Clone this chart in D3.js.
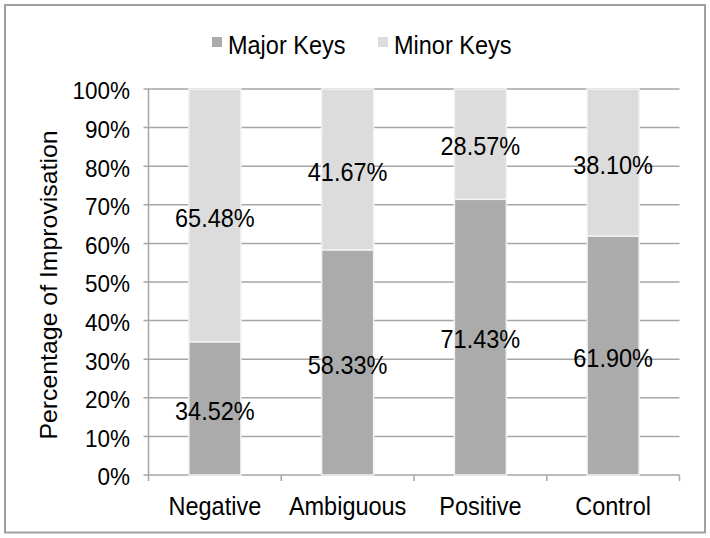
<!DOCTYPE html>
<html>
<head>
<meta charset="utf-8">
<script src="https://cdn.jsdelivr.net/npm/d3@7"></script>
<style>
  html, body { margin: 0; padding: 0; background: #fff; }
  svg text { font-family: "Liberation Sans", Arial, sans-serif; fill: #000; }
</style>
</head>
<body>
<svg id="chart" width="710" height="538"></svg>
<script>
const categories = ["Negative", "Ambiguous", "Positive", "Control"];
const majorKeys = [34.52, 58.33, 71.43, 61.90];
const minorKeys = [65.48, 41.67, 28.57, 38.10];
const seriesNames = ["Major Keys", "Minor Keys"];
const yTicks = [0, 10, 20, 30, 40, 50, 60, 70, 80, 90, 100];
const yTitle = "Percentage of Improvisation";

(function () {
const colors = { "Major Keys": "#ababab", "Minor Keys": "#dcdcdc" };
const svg = d3.select("#chart");
const SY = 1.08; // vertical stretch of text, as in the reference

// outer border
svg.append("rect").attr("x", 5).attr("y", 5).attr("width", 700).attr("height", 527.5)
  .attr("fill", "#fff").attr("stroke", "#a0a0a0").attr("stroke-width", 2);

const pLeft = 148.5, pRight = 679.5, pTop = 89, pBottom = 475;
const x = d3.scaleBand().domain(categories).range([pLeft, pRight]).paddingInner(0).paddingOuter(0);
const y = d3.scaleLinear().domain([0, 100]).range([pBottom, pTop]);

// gridlines
svg.append("g").selectAll("line").data(yTicks).join("line")
  .attr("x1", pLeft - 5).attr("x2", pRight)
  .attr("y1", d => y(d)).attr("y2", d => y(d))
  .attr("stroke", "#a6a6a6").attr("stroke-width", 1.5);

// y axis line
svg.append("line").attr("x1", pLeft).attr("x2", pLeft).attr("y1", pTop).attr("y2", pBottom)
  .attr("stroke", "#a6a6a6").attr("stroke-width", 1.5);

// x ticks
const xTickPos = categories.map(c => x(c)).concat([pRight]);
svg.append("g").selectAll("line").data(xTickPos).join("line")
  .attr("x1", d => d).attr("x2", d => d).attr("y1", pBottom).attr("y2", pBottom + 6)
  .attr("stroke", "#a6a6a6").attr("stroke-width", 1.5);

// y tick labels
svg.append("g").selectAll("text").data(yTicks).join("text")
  .attr("transform", d => `translate(130, ${y(d) + 2}) scale(1, ${SY})`)
  .attr("text-anchor", "end").attr("dominant-baseline", "central")
  .style("font-size", "22.5px")
  .text(d => d + "%");

// x labels
svg.append("g").selectAll("text").data(categories).join("text")
  .attr("transform", d => `translate(${x(d) + x.bandwidth() / 2}, 515) scale(1, ${SY})`)
  .attr("text-anchor", "middle")
  .style("font-size", "23.5px")
  .text(d => d);

// y title
svg.append("text")
  .attr("transform", `translate(57, ${(pTop + pBottom) / 2 + 3}) rotate(-90) scale(${SY}, 1)`)
  .attr("text-anchor", "middle")
  .style("font-size", "23px")
  .text(yTitle);

// stacked data
const rows = categories.map((c, i) => ({ category: c, "Major Keys": majorKeys[i], "Minor Keys": minorKeys[i] }));
const stack = d3.stack().keys(seriesNames)(rows);
const barW = 52;

stack.forEach(layer => {
  svg.append("g").selectAll("rect").data(layer).join("rect")
    .attr("x", d => x(d.data.category) + x.bandwidth() / 2 - barW / 2)
    .attr("width", barW)
    .attr("y", d => y(d[1]))
    .attr("height", d => y(d[0]) - y(d[1]))
    .attr("fill", colors[layer.key])
    .attr("stroke", "#f2f2f2").attr("stroke-width", 1.5);
});

stack.forEach(layer => {
  svg.append("g").selectAll("text").data(layer).join("text")
    .attr("transform", d => `translate(${x(d.data.category) + x.bandwidth() / 2}, ${y((d[0] + d[1]) / 2) + 2.5}) scale(1, ${SY})`)
    .attr("text-anchor", "middle").attr("dominant-baseline", "central")
    .style("font-size", "23.5px")
    .text(d => (d[1] - d[0]).toFixed(2) + "%");
});

// legend
const legX = [212, 378];
const legend = svg.append("g");
seriesNames.forEach((s, i) => {
  legend.append("rect").attr("x", legX[i]).attr("y", 37).attr("width", 10).attr("height", 10)
    .attr("fill", colors[s]);
  legend.append("text")
    .attr("transform", `translate(${legX[i] + 16}, 45) scale(1, ${SY})`)
    .attr("dominant-baseline", "central")
    .style("font-size", "23.5px")
    .text(s);
});
})();
</script>
</body>
</html>
